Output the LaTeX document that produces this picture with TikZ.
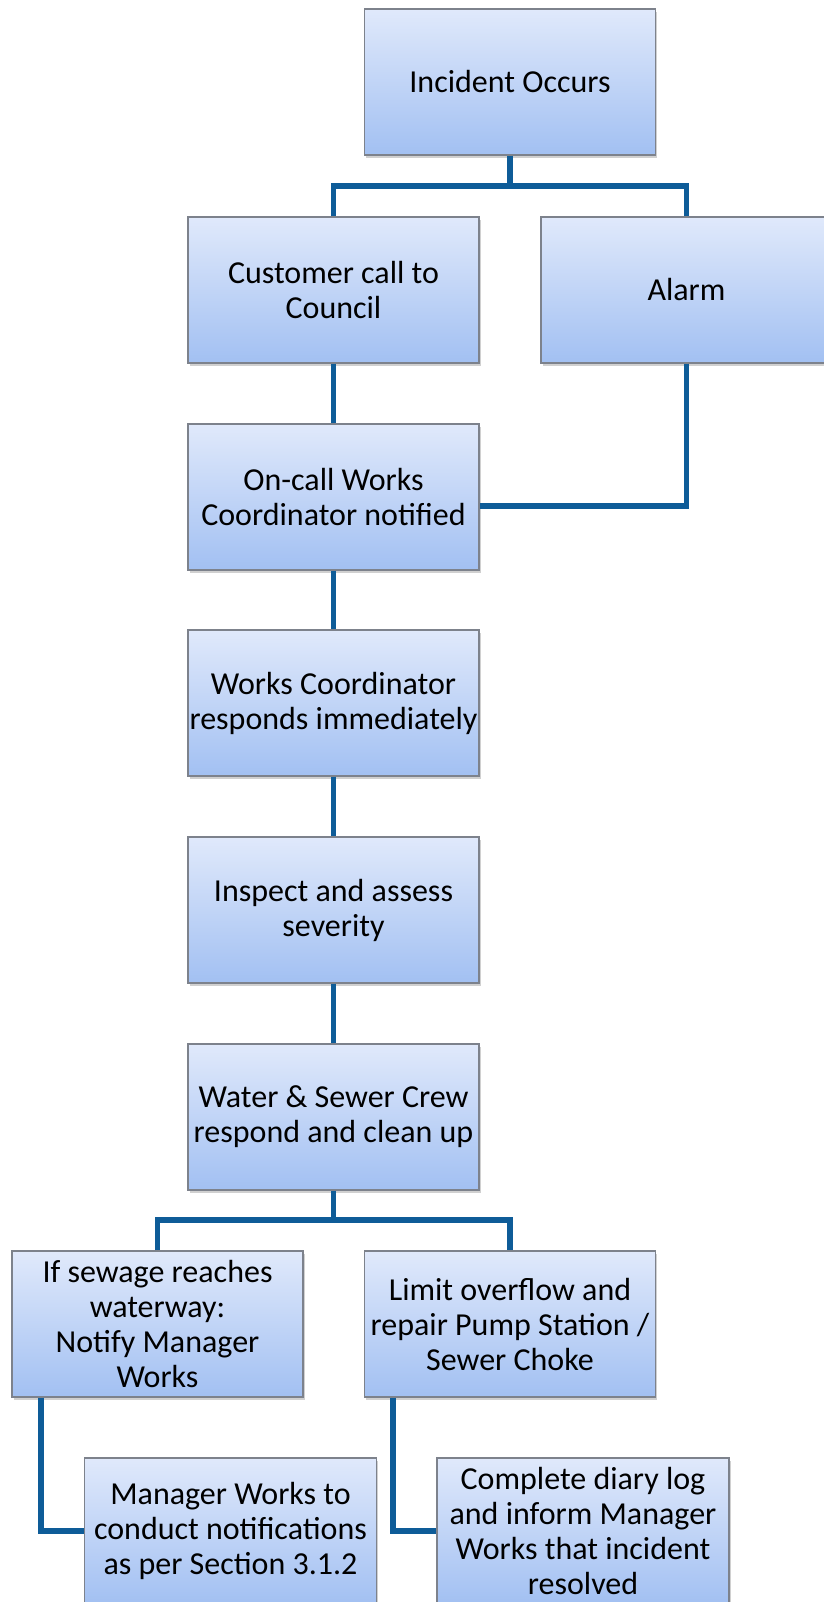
\documentclass[tikz,border=0pt]{standalone}
\usepackage{fontspec}
\setmainfont{Carlito}
\usepackage{tikz}
\usetikzlibrary{shadows}
\usetikzlibrary{calc}
\definecolor{linkblue}{RGB}{14,92,152}
\definecolor{boxtop}{RGB}{224,233,251}
\definecolor{boxbot}{RGB}{162,192,242}
\definecolor{boxedge}{RGB}{125,130,140}
\tikzset{
	stepbox/.style={draw=boxedge, line width=1.2pt, top color=boxtop, bottom color=boxbot,
		minimum width=291pt, minimum height=146pt, align=center, inner sep=0pt,
		font=\fontsize{32}{35}\selectfont,
		drop shadow={shadow xshift=1.5pt, shadow yshift=-3pt, opacity=0.3, fill=black!60}},
	link/.style={draw=linkblue, line width=5.5pt},
}

\begin{document}
\begin{tikzpicture}[x=1pt, y=-1pt]
	\useasboundingbox[fill=white] (0,0) rectangle (823,1602);
	\node[stepbox] (incident) at (510,82) {Incident Occurs};
	\node[stepbox] (customer) at (333.5,290) {Customer call to\\Council};
	\node[stepbox] (alarm) at (686.5,290) {Alarm};
	\node[stepbox] (oncall) at (333.5,497) {On-call Works\\Coordinator notified};
	\node[stepbox] (responds) at (333.5,703) {Works Coordinator\\responds immediately};
	\node[stepbox] (inspect) at (333.5,910) {Inspect and assess\\severity};
	\node[stepbox] (crew) at (333.5,1117) {Water \& Sewer Crew\\respond and clean up};
	\node[stepbox] (sewage) at (157.5,1324) {If sewage reaches\\waterway:\\Notify Manager\\Works};
	\node[stepbox] (limit) at (510,1324) {Limit overflow and\\repair Pump Station /\\Sewer Choke};
	\node[stepbox, minimum width=292pt] (manager) at (230.5,1531) {Manager Works to\\conduct notifications\\as per Section 3.1.2};
	\node[stepbox, minimum width=292pt] (diary) at (583,1531) {Complete diary log\\and inform Manager\\Works that incident\\resolved};

	\coordinate (fork1) at (510,186);
	\coordinate (fork2) at (333.5,1220);
	\draw[link] (incident) -- (fork1);
	\draw[link] (customer) |- (fork1) -| (alarm);
	\draw[link] (customer) -- (oncall);
	\draw[link] (alarm) |- ([yshift=-9pt]oncall.east);
	\draw[link] (oncall) -- (responds);
	\draw[link] (responds) -- (inspect);
	\draw[link] (inspect) -- (crew);
	\draw[link] (crew) -- (fork2);
	\draw[link] (sewage) |- (fork2) -| (limit);
	\draw[link] ([xshift=-116.5pt]sewage.south) |- (manager);
	\draw[link] ([xshift=-117pt]limit.south) |- (diary);
\end{tikzpicture}
\end{document}
